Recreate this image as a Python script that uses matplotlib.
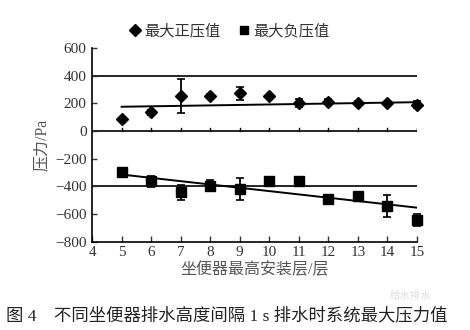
import numpy as np
import matplotlib
matplotlib.use("Agg")
import matplotlib.pyplot as plt
from matplotlib.lines import Line2D

plt.rcParams['font.family'] = ['Liberation Serif', 'Noto Sans CJK SC']

# floor number of the highest toilet
floors = [5, 6, 7, 8, 9, 10, 11, 12, 13, 14, 15]

# max positive pressure (Pa) and spread
pos_max = [84, 135, 252, 255, 272, 255, 200, 212, 200, 200, 188]
pos_err = [12, 20, 120, 10, 48, 8, 30, 18, 15, 12, 25]

# max negative pressure (Pa) and spread
neg_max = [-298, -361, -443, -394, -419, -358, -358, -491, -467, -539, -642]
neg_err = [8, 40, 55, 38, 82, 8, 12, 12, 28, 80, 45]

# fitted trend lines (ends at floor 5 and 15)
trend_x = [5, 15]
pos_trend = [175, 208]
neg_trend = [-314, -553]

limit_lines = [400, 0, -400]

fig = plt.figure(figsize=(4.7, 3.3), dpi=100)
ax = fig.add_axes([0.196, 0.267, 0.691, 0.588])

for y in limit_lines:
    ax.plot([4, 15], [y, y], color='black', lw=1.2, zorder=1)

ax.plot(trend_x, pos_trend, color='black', lw=1.4, zorder=2)
ax.plot(trend_x, neg_trend, color='black', lw=1.4, zorder=2)

for vals, errs, mk, size in [(pos_max, pos_err, 'D', 6.5), (neg_max, neg_err, 's', 7)]:
    eb = ax.errorbar(floors, vals, yerr=errs, fmt=mk, color='black', ms=size,
                     capsize=3, elinewidth=1.3, capthick=1.2, zorder=3)
    for art in eb.lines[0:1] + eb.lines[1] + eb.lines[2]:
        art.set_clip_on(False)

# small upward ticks on the zero line
for x in floors:
    ax.plot([x, x], [0, 22], color='black', lw=1.0, zorder=1)

ax.set_xlim(4, 15)
ax.set_ylim(-800, 600)
ax.set_xticks(range(4, 16))
ax.set_yticks(range(-800, 601, 200))
ax.set_yticklabels(['\u2212800', '\u2212600', '\u2212400', '\u2212200', '0', '200', '400', '600'])
ax.spines['top'].set_visible(False)
ax.spines['right'].set_visible(False)
for s in ['left', 'bottom']:
    ax.spines[s].set_linewidth(1.2)
ax.tick_params(direction='in', length=4, width=1.0, labelsize=11, colors='#333333', pad=3)
ax.tick_params(axis='y', length=3.5, pad=4)

ax.set_ylabel('压力/Pa', fontsize=11.5, color='#555555', labelpad=4)
ax.set_xlabel('坐便器最高安装层/层', fontsize=11.5, color='#555555', labelpad=2)

handles = [Line2D([], [], marker='D', ls='none', color='black', ms=6.5),
           Line2D([], [], marker='s', ls='none', color='black', ms=6)]
leg = ax.legend(handles, ['最大正压值', '最大负压值'], loc='lower center',
                bbox_to_anchor=(0.42, 1.0), ncol=2, frameon=False,
                fontsize=11, handletextpad=0.1, columnspacing=1.0, handlelength=1.0,
                borderaxespad=0.2)
for t in leg.get_texts():
    t.set_color('#333333')

fig.text(0.012, 0.03, '图 4    不同坐便器排水高度间隔 1 s 排水时系统最大压力值',
         fontsize=12.5, color='#222222')
fig.text(0.83, 0.095, '给水排水', fontsize=7.5, color='#dddddd')

fig.savefig('out.png', dpi=100)
